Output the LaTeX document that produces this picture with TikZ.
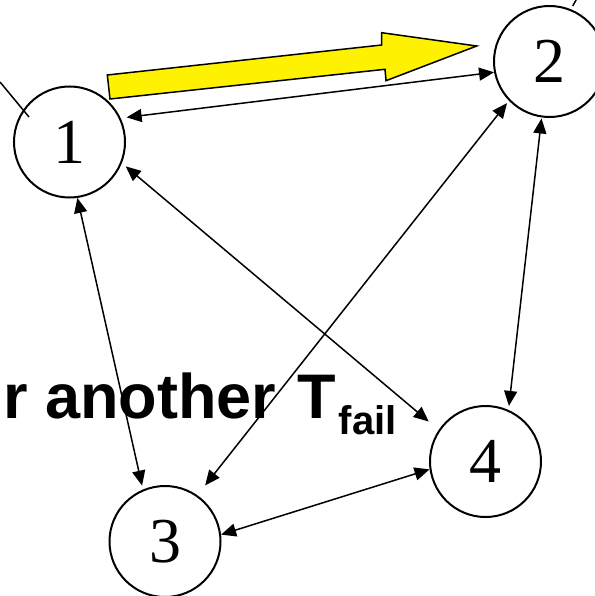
\documentclass[tikz,border=0pt]{standalone}
\usepackage{fontspec}
\setmainfont{Liberation Serif}
\newfontfamily\labelsans{Liberation Sans}
\usetikzlibrary{arrows.meta,calc}
\begin{document}
\begin{tikzpicture}[x=1pt,y=-1pt,
  state/.style={circle,draw,line width=2pt,minimum size=111pt,inner sep=0pt,
    font=\fontsize{64}{64}\selectfont},
  link/.style={{Triangle[length=15pt,width=13pt]}-{Triangle[length=15pt,width=13pt]},line width=1.5pt},
  plain/.style={line width=1.5pt},
  bigarrow/.style={fill=yellow,draw=black,line width=1.5pt,line join=miter},
  caption/.style={anchor=base west,inner sep=0pt,font=\labelsans\bfseries\fontsize{63}{63}\selectfont}]
\useasboundingbox (0,0) rectangle (594,596);
% caption text
\node[caption] (cap) at (3,418) {r another\kern21pt T\kern3pt\raisebox{-16pt}{\fontsize{40}{40}\selectfont fail}};
% states
\node[state] (n1) at (69.5,142) {1};
\node[state] (n2) at (549.5,61.5) {2};
\node[state] (n3) at (165,541.5) {3};
\node[state] (n4) at (485.5,461.5) {4};
% connectors
\draw[link,shorten <=6pt] (n1.25) -- (n2.191);
\draw[link,shorten >=4pt] (n1.-82) -- (n3.113);
\draw[link,shorten <=5pt,shorten >=13pt] (n1.-22) -- (n4.146);
\draw[link,shorten <=3pt,shorten >=12.5pt] (n2.224) -- (n3.55);
\draw[link,shorten <=1pt,shorten >=4pt] (n2.262) -- (n4.66);
\draw[link] (n3.7) -- (n4.188);
% free lines at the edges
\coordinate (tl) at (0,82);
\coordinate (tlend) at (29,117);
\draw[plain] (tl) -- (tlend);
\coordinate (tr) at (577.7,-3);
\coordinate (trend) at (572.7,6);
\draw[plain] (trend) -- (tr);
% yellow block arrow
\draw[bigarrow] (110,99) -- (107.3,75) -- (381.7,45) -- (381.7,32.7) -- (476.7,46)
  -- (386,80.7) -- (385,69.3) -- cycle;
\end{tikzpicture}
\end{document}
